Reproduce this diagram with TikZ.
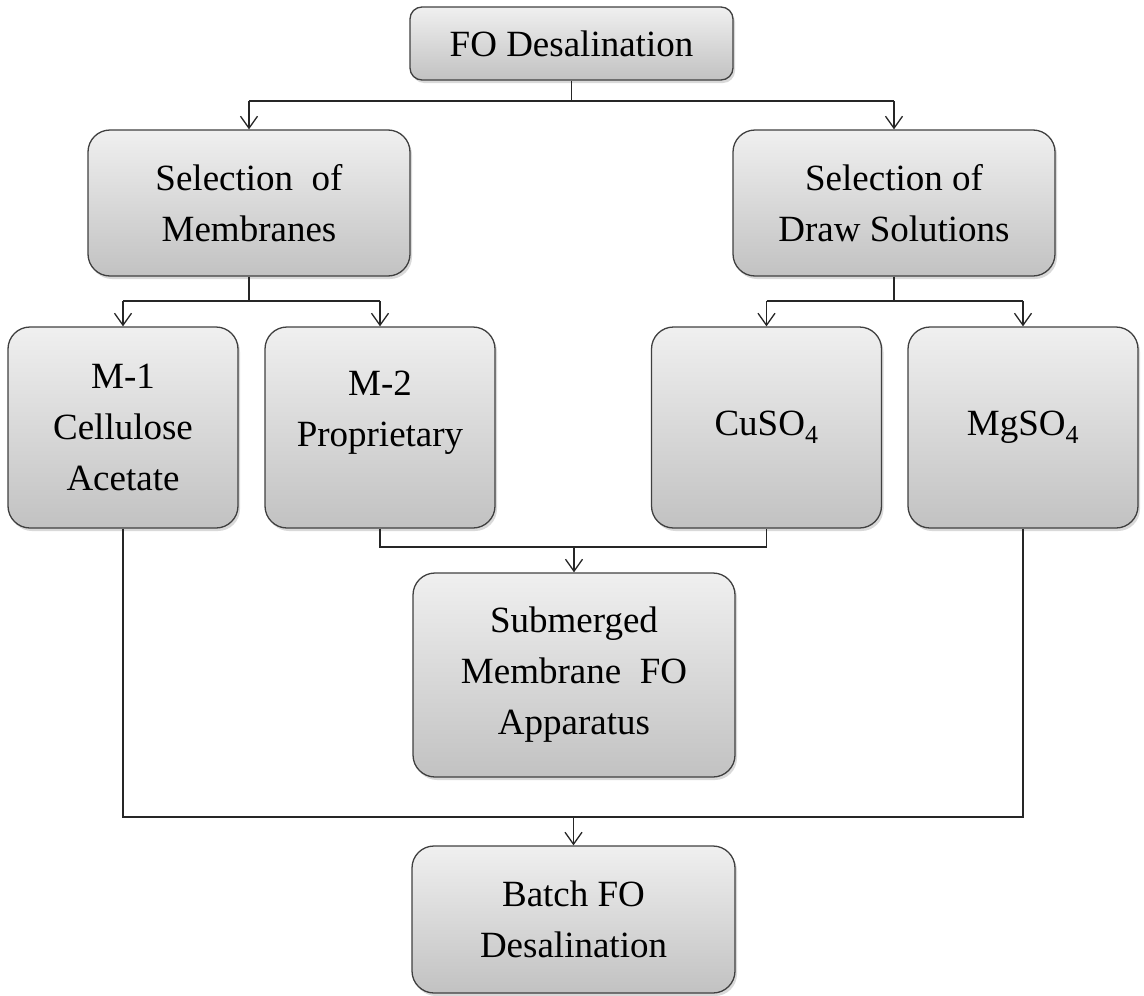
\documentclass[tikz,border=0pt]{standalone}
\usepackage{fontspec}
\setmainfont{Liberation Serif}
\usetikzlibrary{arrows.meta,shadows}
\begin{document}
\begin{tikzpicture}[x=1pt,y=-1pt,
  box/.style={draw=black!75, line width=1.3pt, rounded corners=22pt,
    top color=gray!12, bottom color=gray!48, align=center,
    font=\fontsize{37}{51}\selectfont, inner sep=0pt,
    drop shadow={shadow xshift=2pt,shadow yshift=-3pt,opacity=0.3}},
  conn/.style={draw=black!85, line width=1.3pt},
  arr/.style={conn, -{Straight Barb[length=12pt,width=17pt,line width=1.3pt]}}
]
\useasboundingbox (0,0) rectangle (1144,996);

\node[box, rounded corners=12pt, minimum width=323pt, minimum height=73pt] (top) at (571.5,43.5) {FO Desalination};
\node[box, minimum width=322pt, minimum height=146pt] (mem) at (249,203) {Selection\ \ of\\Membranes};
\node[box, minimum width=322pt, minimum height=146pt] (ds) at (894,203) {Selection of\\Draw Solutions};
\node[box, minimum width=230pt, minimum height=201pt] (m1) at (123,427.5) {M-1\\Cellulose\\Acetate};
\node[box, minimum width=230pt, minimum height=201pt] (m2) at (380,427.5) {M-2\\Proprietary\\[-14pt]};
\node[box, minimum width=230pt, minimum height=201pt] (cu) at (766.5,427.5) {CuSO\textsubscript{4}};
\node[box, minimum width=230pt, minimum height=201pt] (mg) at (1023,427.5) {MgSO\textsubscript{4}};
\node[box, minimum width=322pt, minimum height=204pt] (sub) at (574,675) {Submerged\\Membrane\ \ FO\\Apparatus};
\node[box, minimum width=323pt, minimum height=147pt] (bat) at (573.5,919.5) {Batch FO\\Desalination};

\coordinate (j1) at (572,101);
\coordinate (j2) at (249,301);
\coordinate (j3) at (894,301);
\coordinate (j4) at (572,547);
\coordinate (j5) at (572,817);

% top level
\draw[conn] (top.south) -- (top.south|-j1);
\draw[conn] (mem.north|-j1) -- (ds.north|-j1);
\draw[arr] (mem.north|-j1) -- (mem.north);
\draw[arr] (ds.north|-j1) -- (ds.north);

% membranes
\draw[conn] (mem.south) -- (j2);
\draw[conn] (m1.north|-j2) -- (m2.north|-j2);
\draw[arr] (m1.north|-j2) -- (m1.north);
\draw[arr] (m2.north|-j2) -- (m2.north);

% draw solutions
\draw[conn] (ds.south) -- (j3);
\draw[conn] (cu.north|-j3) -- (mg.north|-j3);
\draw[arr] (cu.north|-j3) -- (cu.north);
\draw[arr] (mg.north|-j3) -- (mg.north);

% to submerged
\draw[conn] (m2.south) -- (m2.south|-j4) -- (cu.south|-j4) -- (cu.south);
\draw[arr] (sub.north|-j4) -- (sub.north);

% to batch
\draw[conn] (m1.south) -- (m1.south|-j5) -- (mg.south|-j5) -- (mg.south);
\draw[arr] (bat.north|-j5) -- (bat.north);
\end{tikzpicture}
\end{document}
